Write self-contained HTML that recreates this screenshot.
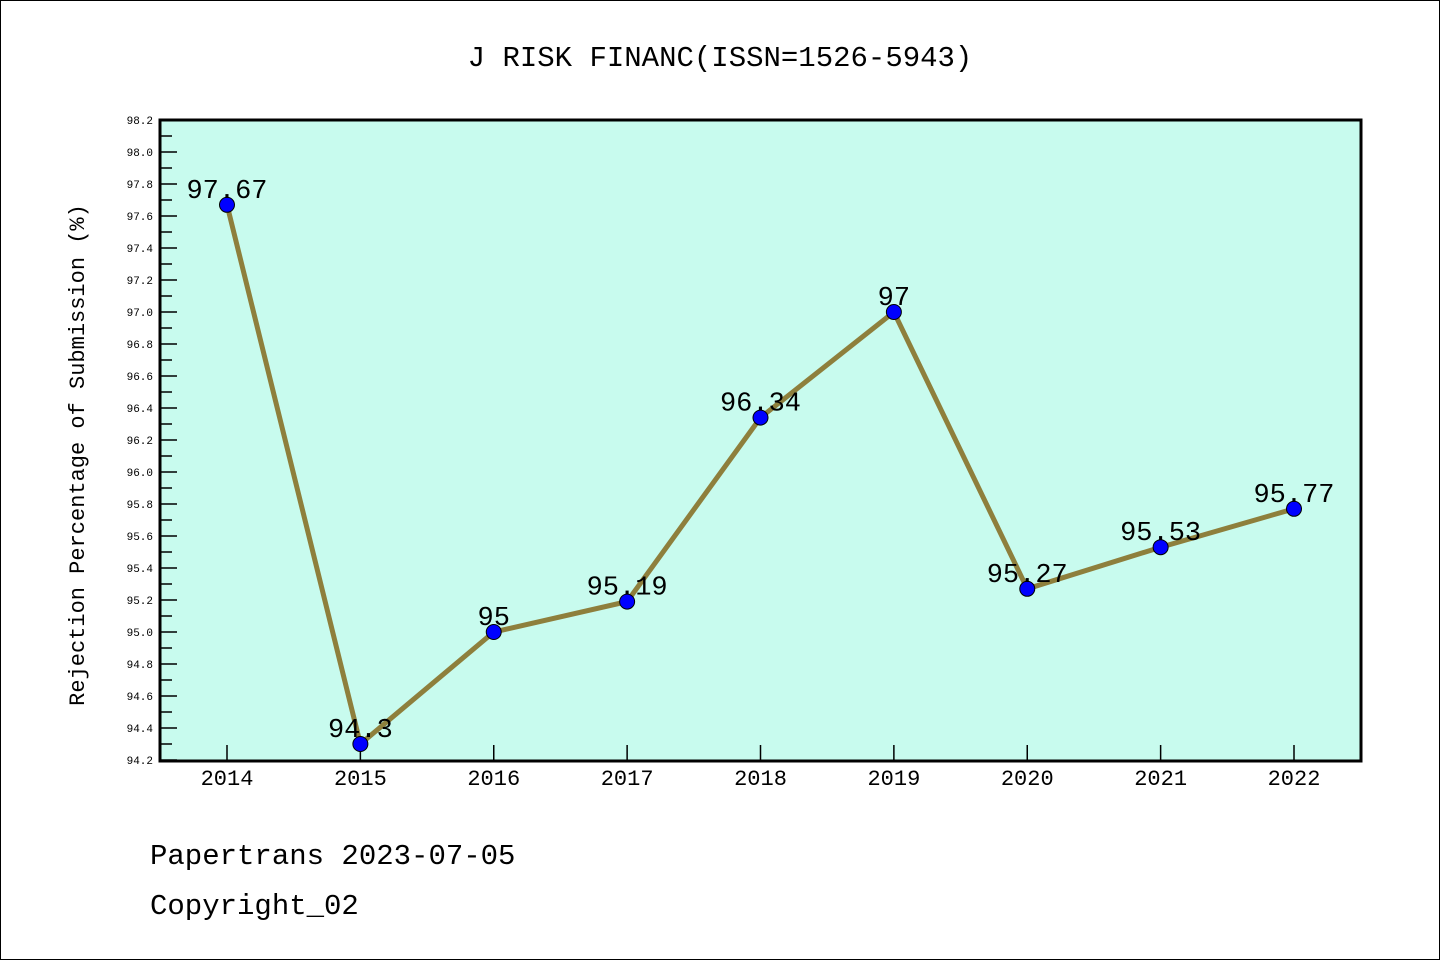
<!DOCTYPE html>
<html><head><meta charset="utf-8"><style>
body{margin:0;background:#fff}
svg{display:block}
text{font-family:"Liberation Mono","DejaVu Sans Mono",monospace}
</style></head><body>
<svg id="c" width="1440" height="960" xmlns="http://www.w3.org/2000/svg">
<rect x="0.5" y="0.5" width="1439" height="959" fill="#fff" stroke="#000"/>
<text x="720" y="66" text-anchor="middle" font-size="29">J RISK FINANC(ISSN=1526-5943)</text>
<rect x="160" y="120" width="1201" height="641" fill="#c8fbee"/>
<g id="ticks"></g>
<g id="series"></g>
<rect x="160" y="120" width="1201" height="641" fill="none" stroke="#000" stroke-width="3"/>
<text transform="translate(84,455) rotate(-90)" text-anchor="middle" font-size="22">Rejection Percentage of Submission (%)</text>
<text x="150" y="864" font-size="29">Papertrans 2023-07-05</text>
<text x="150" y="914" font-size="29">Copyright_02</text>
</svg>
<script>
const years = [2014,2015,2016,2017,2018,2019,2020,2021,2022];
const values = [97.67,94.3,95,95.19,96.34,97,95.27,95.53,95.77];
const valueLabels = ["97.67","94.3","95","95.19","96.34","97","95.27","95.53","95.77"];
const yMin = 94.2, yMax = 98.2;
const NS="http://www.w3.org/2000/svg";
function X(i){return 227+i*(1294-227)/(years.length-1);}
function Y(v){return 760-(v-yMin)*(640/(yMax-yMin));}
function mk(t,a,p){const e=document.createElementNS(NS,t);for(const k in a)e.setAttribute(k,a[k]);p.appendChild(e);return e;}
const tg=document.getElementById('ticks'), sg=document.getElementById('series');
for(let k=0;k<=Math.round((yMax-yMin)*10);k++){
  const v=yMin+k*0.1, y=Y(v), major=k%2===0;
  const t=mk('line',{x1:160,x2:major?177:172,y1:y,y2:y,stroke:'#000','stroke-width':1.5},tg);
  
  
  if(major){const l=mk('text',{x:153,y:y+4,'text-anchor':'end','font-size':11},tg);l.textContent=v.toFixed(1);
  
  }
}
years.forEach((yr,i)=>{
  const t=mk('line',{x1:X(i),x2:X(i),y1:761,y2:745,stroke:'#000','stroke-width':1.5},tg);
  
  
  const l=mk('text',{x:X(i),y:785,'text-anchor':'middle','font-size':22},tg);l.textContent=yr;
  
  
});
const pl=mk('polyline',{points:values.map((v,i)=>X(i)+','+Y(v)).join(' '),fill:'none',stroke:'#8e7f3c','stroke-width':5},sg);


values.forEach((v,i)=>{
  const c=mk('circle',{cx:X(i),cy:Y(v),r:7.5,fill:'#0000ff',stroke:'#000','stroke-width':1},sg);
  
  
  const l=mk('text',{x:X(i),y:Y(v)-7,'text-anchor':'middle','font-size':27},sg);l.textContent=valueLabels[i];
  
  
});
</script>
</body></html>
